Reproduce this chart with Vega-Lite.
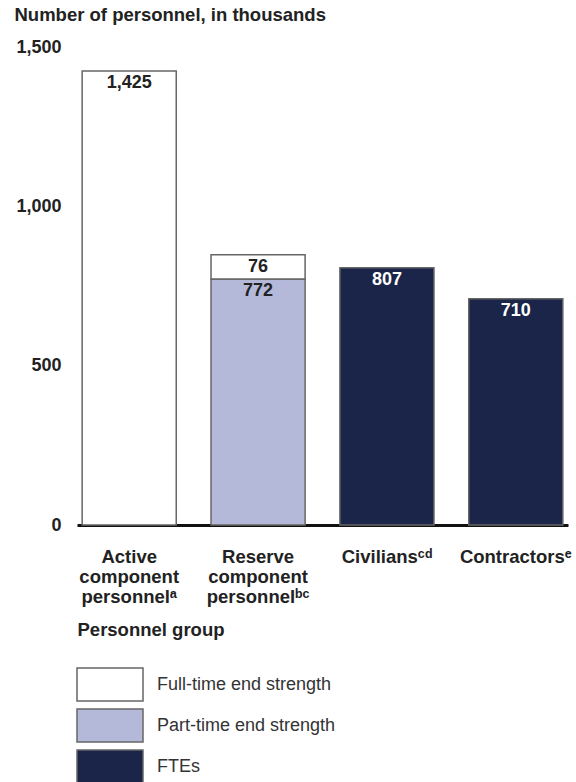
{
  "$schema": "https://vega.github.io/schema/vega-lite/v6.json",
  "autosize": "none",
  "width": 491,
  "height": 478,
  "padding": {"left": 77, "top": 47, "right": 8, "bottom": 257},
  "background": "white",
  "config": {
    "font": "Liberation Sans",
    "view": {"stroke": null}
  },
  "data": {
    "values": [
      {"group": "Active|component|personnelᵃ", "type": "Full-time end strength", "value": 1425},
      {"group": "Reserve|component|personnelᵇᶜ", "type": "Part-time end strength", "value": 772},
      {"group": "Reserve|component|personnelᵇᶜ", "type": "Full-time end strength", "value": 76},
      {"group": "Civiliansᶜᵈ", "type": "FTEs", "value": 807},
      {"group": "Contractorsᵉ", "type": "FTEs", "value": 710}
    ]
  },
  "encoding": {
    "x": {
      "field": "group",
      "type": "nominal",
      "sort": null,
      "scale": {"paddingInner": 0.27, "paddingOuter": 0.04},
      "axis": {
        "title": "Personnel group",
        "titleFontSize": 18.5,
        "titleFontWeight": "bold",
        "titleColor": "#222",
        "titleAnchor": "start",
        "titleAlign": "left",
        "titleBaseline": "alphabetic",
        "titleX": 0,
        "titleY": 110,
        "labelExpr": "split(datum.label, '|')",
        "labelAngle": 0,
        "labelFontSize": 18.5,
        "labelFontWeight": "bold",
        "labelColor": "#222",
        "labelLineHeight": 20,
        "labelBaseline": "top",
        "labelPadding": 22,
        "labelLimit": 200,
        "ticks": false,
        "domainColor": "#111",
        "domainWidth": 3
      }
    }
  },
  "layer": [
    {
      "mark": {"type": "bar", "stroke": "#666", "strokeWidth": 1.5},
      "encoding": {
        "y": {
          "field": "value",
          "type": "quantitative",
          "stack": "zero",
          "scale": {"domain": [0, 1500], "nice": false},
          "axis": {
            "title": "Number of personnel, in thousands",
            "titleAngle": 0,
            "titleAlign": "left",
            "titleBaseline": "alphabetic",
            "titleX": -63,
            "titleY": -27,
            "titleFontSize": 18.5,
            "titleFontWeight": "bold",
            "titleColor": "#222",
            "titleLimit": 500,
            "values": [0, 500, 1000, 1500],
            "format": ",d",
            "grid": false,
            "ticks": false,
            "domain": false,
            "labelFontSize": 18,
            "labelFontWeight": "bold",
            "labelColor": "#222",
            "labelPadding": 16
          }
        },
        "color": {
          "field": "type",
          "type": "nominal",
          "scale": {
            "domain": ["Full-time end strength", "Part-time end strength", "FTEs"],
            "range": ["#ffffff", "#b4b9da", "#1b2549"]
          },
          "legend": {
            "orient": "none",
            "legendX": 15.5,
            "legendY": 620,
            "title": null,
            "direction": "vertical",
            "symbolType": "M-2,-1H2V1H-2Z",
            "symbolSize": 1089,
            "symbolStrokeColor": "#666",
            "symbolStrokeWidth": 1.5,
            "symbolOpacity": 1,
            "labelFontSize": 18,
            "labelColor": "#333",
            "labelOffset": 29.5,
            "labelLimit": 400,
            "rowPadding": 2
          }
        },
        "order": {"field": "type", "sort": "descending"}
      }
    },
    {
      "mark": {"type": "text", "baseline": "middle", "dy": 12, "fontSize": 18, "fontWeight": "bold"},
      "encoding": {
        "y": {"field": "value", "type": "quantitative", "stack": "zero"},
        "detail": {"field": "type"},
        "order": {"field": "type", "sort": "descending"},
        "text": {"field": "value", "type": "quantitative", "format": ",d"},
        "color": {
          "condition": {"test": "datum.type === 'FTEs'", "value": "#ffffff"},
          "value": "#222222"
        }
      }
    }
  ]
}
